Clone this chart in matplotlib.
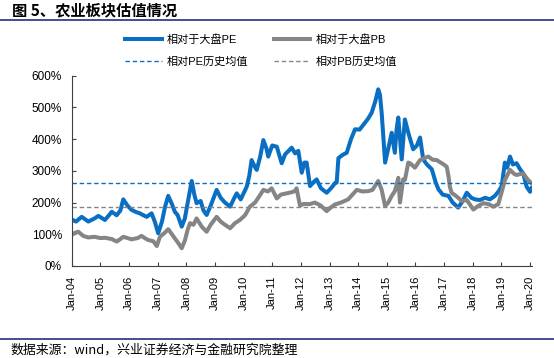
import matplotlib
matplotlib.use('Agg')
import matplotlib.pyplot as plt
from matplotlib.lines import Line2D

plt.rcParams['font.family'] = ['Liberation Sans', 'Noto Sans CJK SC', 'DejaVu Sans']
plt.rcParams['axes.unicode_minus'] = False

# 相对于大盘PE (时间: 年份小数, 值: %)
pe_t = [2004.00, 2004.15, 2004.35, 2004.58, 2004.80, 2004.93, 2005.16, 2005.30, 2005.40, 2005.57,
        2005.70, 2005.80, 2005.95, 2006.09, 2006.25, 2006.38, 2006.50, 2006.62, 2006.79, 2006.90,
        2007.02, 2007.15, 2007.26, 2007.37, 2007.50, 2007.60, 2007.70, 2007.84, 2007.95, 2008.05,
        2008.19, 2008.28, 2008.36, 2008.50, 2008.60, 2008.71, 2008.85, 2009.06, 2009.20, 2009.35,
        2009.53, 2009.65, 2009.76, 2009.90, 2010.11, 2010.20, 2010.28, 2010.38, 2010.46, 2010.58,
        2010.69, 2010.80, 2010.86, 2011.00, 2011.16, 2011.33, 2011.45, 2011.56, 2011.68, 2011.80,
        2011.91, 2012.03, 2012.12, 2012.20, 2012.32, 2012.45, 2012.55, 2012.70, 2012.90, 2013.05,
        2013.19, 2013.25, 2013.31, 2013.45, 2013.60, 2013.75, 2013.89, 2014.05, 2014.24, 2014.35,
        2014.47, 2014.60, 2014.70, 2014.76, 2014.82, 2014.94, 2015.05, 2015.17, 2015.28, 2015.34,
        2015.40, 2015.52, 2015.63, 2015.75, 2015.92, 2016.05, 2016.16, 2016.27, 2016.40, 2016.57,
        2016.70, 2016.80, 2016.95, 2017.15, 2017.30, 2017.49, 2017.65, 2017.79, 2017.95, 2018.08,
        2018.25, 2018.43, 2018.60, 2018.77, 2018.90, 2019.01, 2019.12, 2019.20, 2019.30, 2019.40,
        2019.53, 2019.65, 2019.76, 2019.88, 2020.00, 2020.05]
pe_v = [147, 140, 155, 140, 150, 158, 145, 160, 171, 160,
        175, 210, 190, 177, 170, 166, 160, 155, 166, 140,
        103, 140, 187, 221, 195, 171, 160, 124, 150, 200,
        268, 225, 198, 205, 175, 161, 190, 240, 215, 200,
        187, 210, 229, 210, 250, 285, 334, 315, 303, 345,
        397, 370, 345, 380, 376, 324, 352, 362, 373, 355,
        363, 294, 326, 326, 252, 265, 273, 245, 231, 245,
        261, 263, 340, 350, 357, 400, 431, 430, 452, 465,
        483, 520, 557, 540, 483, 326, 370, 420, 357, 431,
        468, 336, 462, 420, 368, 380, 405, 336, 320, 305,
        265, 242, 225, 221, 200, 184, 205, 231, 215, 210,
        208, 215, 210, 221, 235, 252, 326, 310, 345, 320,
        324, 305, 292, 250, 234, 245]

# 相对于大盘PB
pb_t = [2004.00, 2004.12, 2004.23, 2004.40, 2004.58, 2004.80, 2005.00, 2005.16, 2005.40, 2005.57,
        2005.70, 2005.80, 2005.95, 2006.09, 2006.30, 2006.44, 2006.55, 2006.67, 2006.85, 2006.97,
        2007.08, 2007.25, 2007.37, 2007.50, 2007.60, 2007.70, 2007.84, 2007.95, 2008.05, 2008.13,
        2008.25, 2008.36, 2008.54, 2008.71, 2008.85, 2009.06, 2009.20, 2009.35, 2009.53, 2009.70,
        2009.87, 2010.05, 2010.22, 2010.40, 2010.55, 2010.69, 2010.85, 2010.98, 2011.16, 2011.30,
        2011.50, 2011.65, 2011.79, 2011.85, 2011.97, 2012.10, 2012.30, 2012.49, 2012.70, 2012.90,
        2013.05, 2013.19, 2013.40, 2013.65, 2013.80, 2013.95, 2014.15, 2014.35, 2014.50, 2014.70,
        2014.82, 2014.94, 2015.05, 2015.17, 2015.28, 2015.34, 2015.40, 2015.46, 2015.57, 2015.63,
        2015.75, 2015.81, 2015.98, 2016.16, 2016.33, 2016.45, 2016.60, 2016.74, 2016.97, 2017.09,
        2017.15, 2017.20, 2017.26, 2017.44, 2017.61, 2017.79, 2018.02, 2018.20, 2018.37, 2018.55,
        2018.72, 2018.89, 2019.06, 2019.12, 2019.30, 2019.45, 2019.53, 2019.76, 2019.93, 2020.05]
pb_v = [98, 105, 108, 95, 90, 92, 88, 89, 85, 77,
        85, 92, 88, 84, 88, 95, 88, 82, 78, 63,
        92, 105, 116, 100, 87, 75, 56, 80, 115, 135,
        130, 150, 124, 108, 130, 155, 140, 130, 119, 135,
        145, 160, 187, 200, 220, 240, 235, 245, 213, 225,
        229, 232, 236, 245, 190, 196, 195, 200, 190, 173,
        185, 194, 200, 210, 225, 240, 235, 236, 240, 268,
        240, 189, 200, 221, 236, 255, 278, 200, 273, 271,
        326, 324, 310, 334, 341, 345, 335, 334, 321, 313,
        284, 250, 231, 219, 205, 208, 178, 190, 198, 195,
        187, 195, 250, 271, 303, 290, 287, 292, 271, 261]

pe_mean = 263
pb_mean = 185

years = list(range(2004, 2021))
year_labels = ['Jan-%02d' % (y % 100) for y in years]

blue = '#0a6fc2'
gray = '#858585'
navy = '#353f86'

fig = plt.figure(figsize=(5.54, 3.58), dpi=100)
ax = fig.add_axes([0.1294, 0.257, 0.8300, 0.5316])

ax.plot(pe_t, [v / 100 for v in pe_v], color=blue, lw=2.9, label='相对于大盘PE', solid_joinstyle='round')
ax.plot(pb_t, [v / 100 for v in pb_v], color=gray, lw=2.9, label='相对于大盘PB', solid_joinstyle='round')
ax.axhline(pe_mean / 100, color=blue, lw=1.0, dashes=(3.2, 2), label='相对PE历史均值')
ax.axhline(pb_mean / 100, color=gray, lw=1.0, dashes=(3.2, 2), label='相对PB历史均值')

ax.set_xlim(2004, 2020.05)
ax.set_ylim(0, 6)
ax.set_xticks(years)
ax.set_xticklabels(year_labels, rotation=90, fontsize=8)
ax.set_yticks(range(0, 7))
ax.set_yticklabels(['%d%%' % (i * 100) for i in range(0, 7)], fontsize=8.5)
ax.tick_params(direction='in', length=3, width=0.8, color='#404040', pad=7)
for s in ['top', 'right']:
    ax.spines[s].set_visible(False)
for s in ['left', 'bottom']:
    ax.spines[s].set_color('#404040')
    ax.spines[s].set_linewidth(0.8)

h, l = ax.get_legend_handles_labels()
order = [0, 2, 1, 3]
fig.legend([h[i] for i in order], [l[i] for i in order], ncol=2, loc='center left',
           bbox_to_anchor=(0.2256, 0.859), frameon=False, fontsize=8,
           handlelength=3.3, handletextpad=0.45, columnspacing=2.3,
           labelspacing=1.05, borderpad=0, borderaxespad=0)

fig.text(0.022, 0.972, '图 5、农业板块估值情况', fontsize=11, fontweight='bold',
         family=['Noto Sans CJK SC'], va='center', ha='left')
fig.add_artist(Line2D([0.0, 1.0], [1 - 20 / 358, 1 - 20 / 358], color=navy, lw=1.3))
fig.add_artist(Line2D([0.0, 1.0], [1 - 339 / 358, 1 - 339 / 358], color=navy, lw=1.3))
fig.text(0.018, 1 - 350 / 358, '数据来源：wind，兴业证券经济与金融研究院整理', fontsize=9.3,
         family=['Noto Sans CJK SC'], va='center', ha='left')

fig.savefig('out.png', dpi=100)
